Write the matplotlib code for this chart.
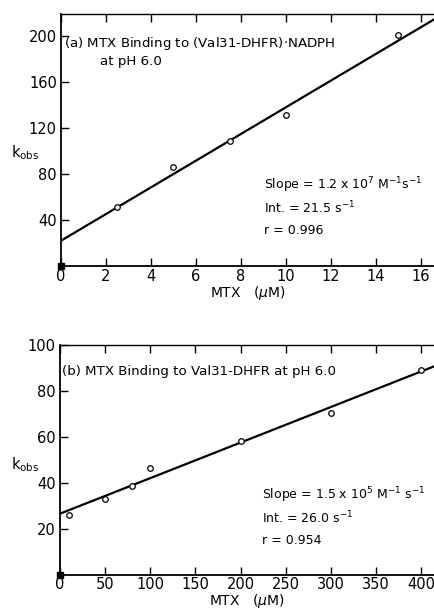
import matplotlib
matplotlib.use('Agg')
import matplotlib.pyplot as plt
import numpy as np

plt.rcParams['font.family'] = ['DejaVu Sans']
plt.rcParams['mathtext.fontset'] = 'dejavusans'

# (a) MTX binding to (Val31-DHFR).NADPH
mtx_a = [2.5, 5.0, 7.5, 10.0, 15.0]
kobs_a = [51, 86, 109, 131, 201]
int_a, slope_a = 22.0, 11.6   # drawn fit line (s^-1, s^-1 per uM)

# (b) MTX binding to Val31-DHFR
mtx_b = [10, 50, 80, 100, 200, 300, 400]
kobs_b = [26, 33, 38.5, 46.5, 58, 70.5, 89]
int_b, slope_b = 26.5, 0.155

fig = plt.figure(figsize=(4.34, 6.11), dpi=100)
H = 611

def panel(rect, x, y, b0, b1, xmax, ymax, xticks, yticks):
    ax = fig.add_axes(rect)
    xx = np.array([0, xmax])
    ax.plot(xx, b0 + b1 * xx, color='black', lw=1.6)
    ax.plot(x, y, 'o', ms=4, mfc='white', mec='black', mew=0.9, clip_on=False, zorder=3)
    ax.plot([0], [0], 's', ms=5, color='black', clip_on=False, zorder=4)
    ax.set_xlim(0, xmax)
    ax.set_ylim(0, ymax)
    ax.set_xticks(xticks)
    ax.set_yticks(yticks)
    ax.tick_params(direction='in', length=6, width=1.0, labelsize=10.5, pad=3,
                   top=True, right=False)
    ax.tick_params(axis='x', pad=2)
    ax.spines['right'].set_visible(False)
    ax.spines['left'].set_linewidth(1.3)
    ax.spines['bottom'].set_linewidth(1.3)
    ax.spines['top'].set_linewidth(1.0)
    ax.set_xlabel(r'MTX   ($\mu$M)', fontsize=10, labelpad=0)
    return ax

def ftext(px, py, s, size=9.6):
    fig.text(px / 434, 1 - py / H, s, fontsize=size, va='center', ha='left')

ax1 = panel([0.1406, 0.5646, 0.8594, 0.4124], mtx_a, kobs_a, int_a, slope_a,
            16.58, 219, range(0, 17, 2), range(40, 201, 40))
ftext(64, 43, r'(a) MTX Binding to (Val31-DHFR)$\cdot$NADPH')
ftext(100, 61, 'at pH 6.0')
ftext(264, 185, r'Slope = 1.2 x 10$^7$ M$^{-1}$s$^{-1}$', 9)
ftext(264, 208, r'Int. = 21.5 s$^{-1}$', 9)
ftext(264, 230, 'r = 0.996', 9)
ftext(11, 153, r'k$_{\rm obs}$', 10.5)

ax2 = panel([0.1382, 0.0597, 0.8618, 0.3757], mtx_b, kobs_b, int_b, slope_b,
            414, 100, range(0, 401, 50), range(20, 101, 20))
ftext(62, 371, '(b) MTX Binding to Val31-DHFR at pH 6.0')
ftext(262, 495, r'Slope = 1.5 x 10$^5$ M$^{-1}$ s$^{-1}$', 9)
ftext(262, 518, r'Int. = 26.0 s$^{-1}$', 9)
ftext(262, 541, 'r = 0.954', 9)
ftext(11, 465, r'k$_{\rm obs}$', 10.5)

fig.savefig('out.png', dpi=100)
